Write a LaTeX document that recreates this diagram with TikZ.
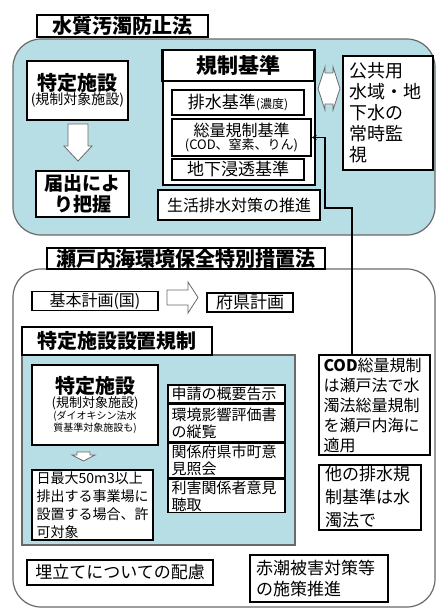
\documentclass[tikz,border=0pt]{standalone}
\usepackage{fontspec}
\setmainfont{Noto Sans CJK JP}
\usetikzlibrary{arrows.meta, positioning}

\definecolor{mizuiro}{RGB}{183,222,228}
\definecolor{waku}{RGB}{105,105,105}
\newcommand{\fsz}[2]{\fontsize{#1}{#2}\selectfont}

\tikzset{
  box/.style={draw, fill=white, line width=1.5pt, inner sep=1pt, align=center},
  lbox/.style={box, align=left, inner xsep=5pt},
  hdr/.style={box, line width=2.4pt, font=\bfseries\fsz{20}{22}},
  region/.style={draw=waku, line width=1.2pt, rounded corners=28pt},
  hollow/.style={draw=waku, fill=white, line width=0.8pt, line join=miter},
  conn/.style={line width=1.5pt, -{Stealth[length=5pt, width=5pt]}},
}

\begin{document}
\begin{tikzpicture}[x=1pt, y=-1pt]
  \useasboundingbox (0,0) rectangle (436,608);

  % --- 水質汚濁防止法 ---
  \draw[region, fill=mizuiro] (13,39) rectangle (435,235);
  \node[hdr, minimum width=171, minimum height=22] (suishitsu) at (122.5,26) {水質汚濁防止法};

  \node[box, minimum width=101, minimum height=59] (tokutei) at (77.5,90.5)
    {\bfseries\fsz{20}{23}特定施設\\[-1pt]\mdseries\fsz{14}{16}(規制対象施設)};
  \draw[hollow] (68,124) -- (88,124) -- (88,146) -- (92,146) -- (78,161) -- (64,146) -- (68,146) -- cycle;
  \node[box, minimum width=93, minimum height=46, font=\bfseries\fsz{19}{21}] (todokede) at (82.5,194) {届出によ\\り把握};

  \draw[line width=1.2pt, fill=white] (163,81) rectangle (315,185);
  \node[hdr, minimum width=152, minimum height=31, font=\bfseries\fsz{21}{23}] (kisei) at (238.5,65.5) {規制基準};
  \node[box, minimum width=132, minimum height=25] (haisui) at (238,102.5)
    {{\fsz{17}{19}排水基準}{\fsz{12}{14}(濃度)}};
  \node[box, minimum width=139, minimum height=37, inner ysep=0pt] (soryo) at (241.5,137.5)
    {\fsz{16}{17}総量規制基準\\\fsz{13}{15}(COD、窒素、りん)};
  \node[box, minimum width=132, minimum height=21, font=\fsz{17}{19}] (chika) at (238,169.5) {地下浸透基準};
  \node[box, minimum width=162, minimum height=30, font=\fsz{16}{18}] (seikatsu) at (239,205) {生活排水対策の推進};

  \draw[hollow] (318,88.5) -- (325,67) -- (325,73) -- (333,73) -- (333,67) -- (340,88.5)
    -- (333,110) -- (333,104) -- (325,104) -- (325,110) -- cycle;
  \node[lbox, minimum width=90, minimum height=114, text width=78, font=\fsz{18}{21}] (kokyo) at (388,113)
    {公共用\\水域・地\\下水の\\常時監\\視};

  % --- 瀬戸内海環境保全特別措置法 ---
  \draw[region, fill=white] (13,269) rectangle (435,607);
  \node[hdr, minimum width=278, minimum height=21] (setouchi) at (186,258.5) {瀬戸内海環境保全特別措置法};

  \node[box, minimum width=126, minimum height=18, font=\fsz{16}{18}] (kihon) at (95,301) {基本計画(国)};
  \draw[hollow] (167,290) -- (188,290) -- (188,282) -- (198,297.5) -- (188,313) -- (188,305) -- (167,305) -- cycle;
  \node[box, minimum width=86, minimum height=19, font=\fsz{17}{19}] (fuken) at (250,302.5) {府県計画};

  \draw[line width=1.2pt, draw=waku, fill=mizuiro] (22,355) rectangle (295,545);
  \node[hdr, minimum width=190, minimum height=28] (setchi) at (117,341) {特定施設設置規制};
  \node[box, minimum width=126, minimum height=80] (tokutei2) at (95,405)
    {\bfseries\fsz{20}{22}特定施設\\\mdseries\fsz{13}{16}(規制対象施設)\\(ダイオキシン法水\\質基準対象施設も)};
  \draw[hollow] (77,452) -- (90,452) -- (90,455) -- (95,455) -- (83.5,461) -- (72,455) -- (77,455) -- cycle;
  \node[lbox, minimum width=121, minimum height=70, text width=112, inner xsep=3pt, font=\fsz{14}{18}] (nichi) at (92.5,505)
    {日最大50m3以上\\排出する事業場に\\設置する場合、許\\可対象};

  \node[lbox, minimum width=117, minimum height=18, text width=110, inner xsep=3pt, font=\fsz{15}{17}] (shinsei) at (226.5,394) {申請の概要告示};
  \node[lbox, minimum width=117, minimum height=37, text width=110, inner xsep=3pt, font=\fsz{15}{17}, below=0pt of shinsei] (kankyo) {環境影響評価書\\の縦覧};
  \node[lbox, minimum width=117, minimum height=35, text width=110, inner xsep=3pt, font=\fsz{15}{17}, below=0pt of kankyo] (kankei) {関係府県市町意\\見照会};
  \node[lbox, minimum width=117, minimum height=33, text width=110, inner xsep=3pt, font=\fsz{15}{17}, below=0pt of kankei] (rigai) {利害関係者意見\\聴取};

  \node[lbox, minimum width=111, minimum height=100, text width=102, inner xsep=4pt, font=\fsz{16}{20}] (cod) at (374.5,405)
    {{\bfseries COD}総量規制\\は瀬戸法で水\\濁法総量規制\\を瀬戸内海に\\適用};
  \node[lbox, minimum width=102, minimum height=65, text width=90, inner xsep=6pt, font=\fsz{17}{23}] (hoka) at (370,497.5)
    {他の排水規\\制基準は水\\濁法で};

  \node[box, minimum width=186, minimum height=25, font=\fsz{17}{19}] (umetate) at (120,572.5) {埋立てについての配慮};
  \node[lbox, minimum width=138, minimum height=47, text width=126, inner xsep=6pt, font=\fsz{17}{21}] (akashio) at (319,578.5)
    {赤潮被害対策等\\の施策推進};

  % COD総量規制 → 総量規制基準
  \coordinate (oreme) at (325,208);
  \draw[conn] ([xshift=-22.5pt]cod.north) |- (oreme) |- (soryo.east);
\end{tikzpicture}
\end{document}
